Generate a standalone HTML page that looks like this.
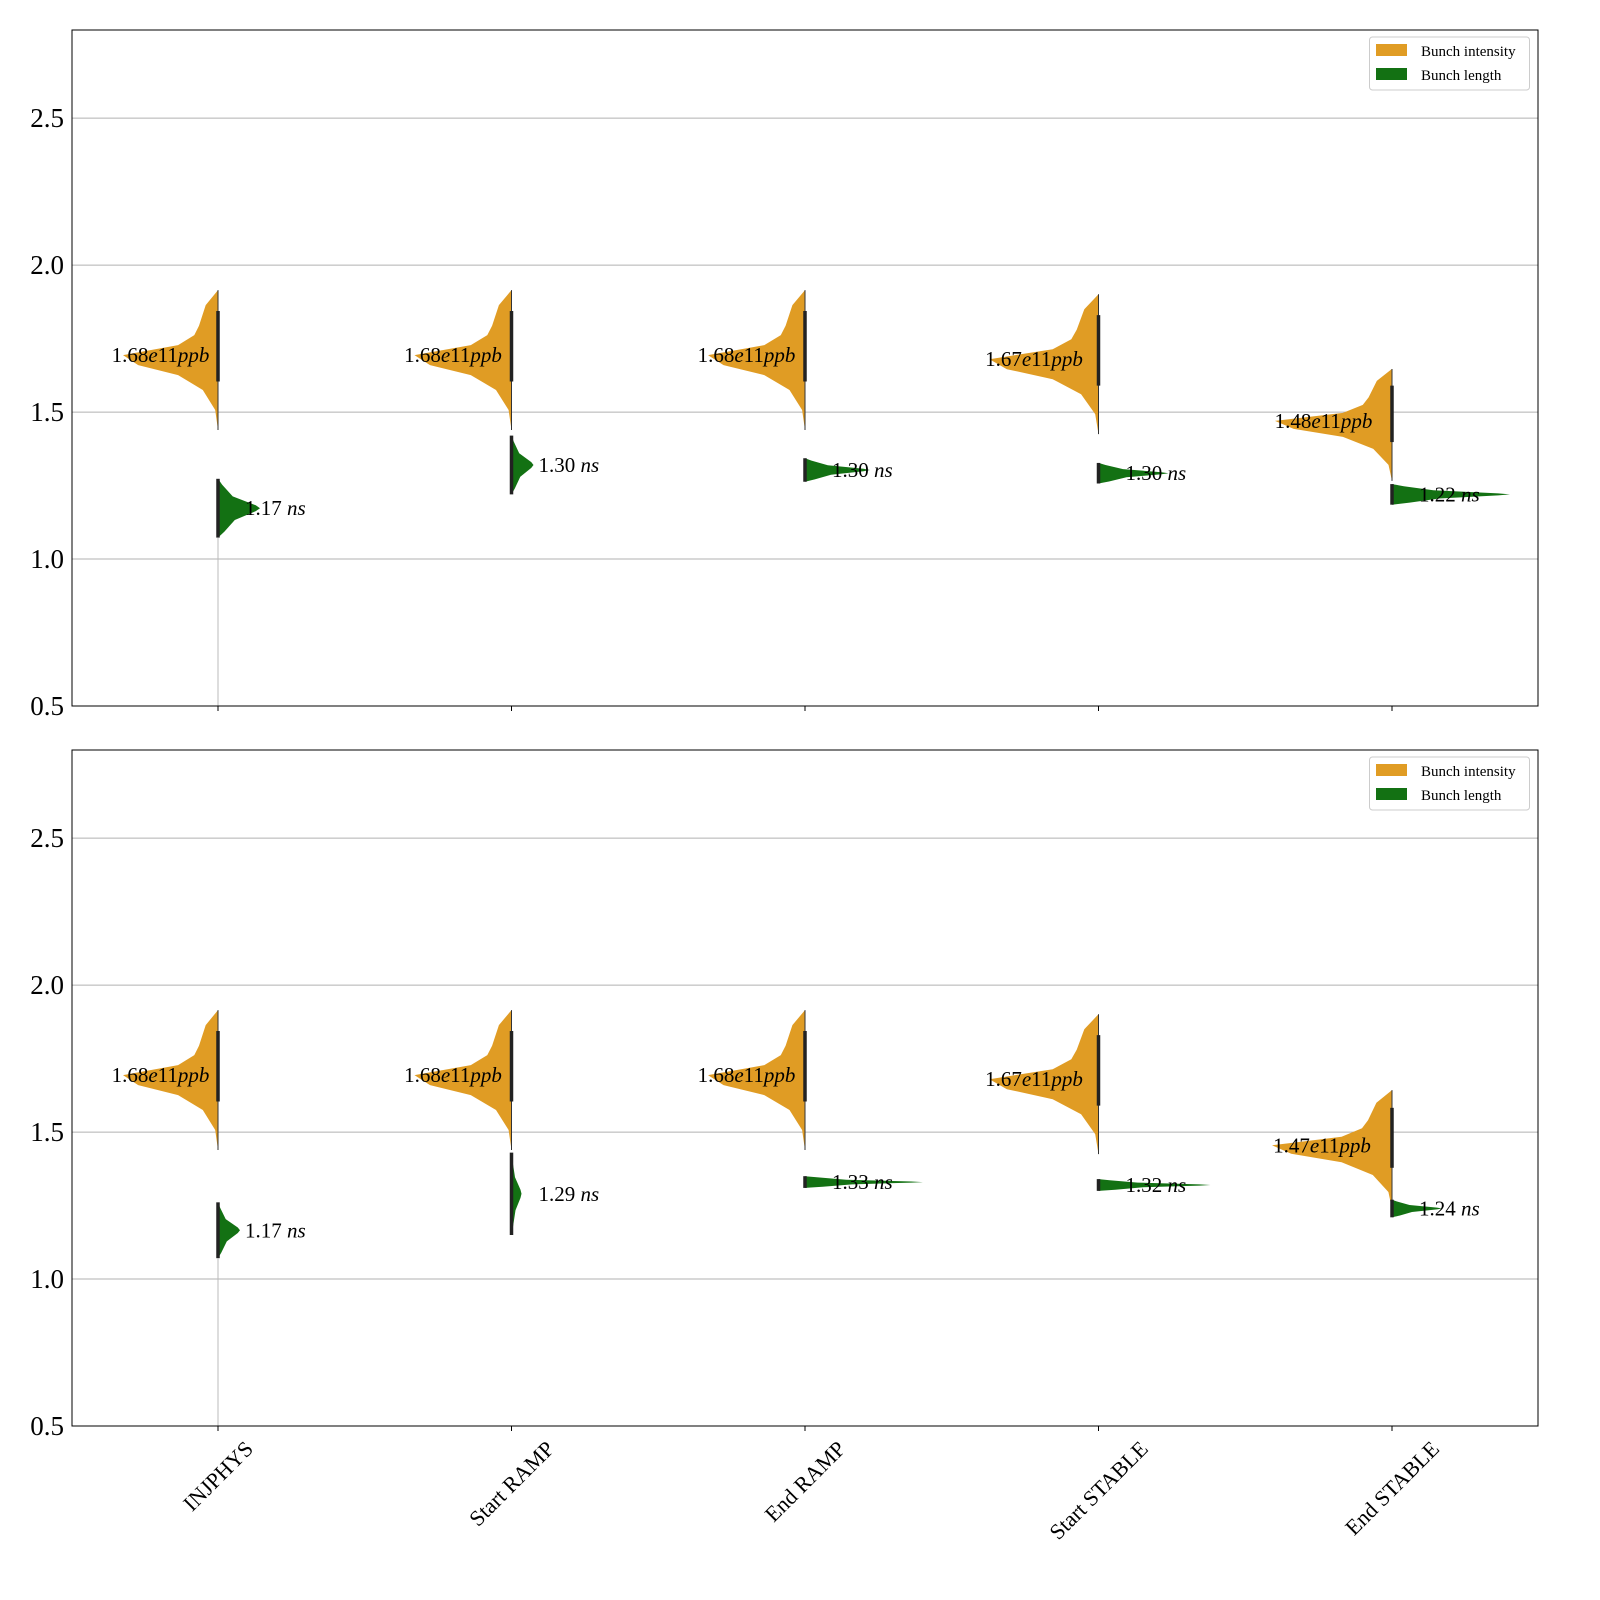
<!DOCTYPE html>
<html><head><meta charset="utf-8">
<style>
html,body{margin:0;padding:0;background:#fff;overflow:hidden;width:1600px;height:1600px;}
svg{display:block;font-family:"Liberation Serif",serif;}
</style></head>
<body>
<svg id="chart" width="1600" height="1600" viewBox="0 0 1600 1600" xmlns="http://www.w3.org/2000/svg"></svg>
<script>
const categories = ["INJPHYS","Start RAMP","End RAMP","Start STABLE","End STABLE"];
// intensity (orange) violins, per panel
const intensityPeaks = [[1.694,1.694,1.694,1.68,1.47],[1.694,1.694,1.694,1.68,1.455]];
const intensityLabels = [["1.68","1.68","1.68","1.67","1.48"],["1.68","1.68","1.68","1.67","1.47"]];
const intensityWidths = [[95,97,97,109,117],[95,97,97,109,120]];
const intensityScale = [[1,1,1,1,0.8],[1,1,1,1,0.85]];
// length (green) violins
const lengthPeaks = [[1.173,1.32,1.303,1.292,1.22],[1.166,1.29,1.33,1.32,1.24]];
const lengthHalfSpan = [[0.1,0.1,0.04,0.035,0.035],[0.095,0.14,0.02,0.02,0.03]];
const lengthWidths = [[42,22,65,70,118],[22,10,118,112,50]];
const lengthLabels = [["1.17","1.30","1.30","1.30","1.22"],["1.17","1.29","1.33","1.32","1.24"]];
const yTicks = [0.5,1.0,1.5,2.0,2.5];
// templates (offset from peak, relative width)
const orangeOffsets = [0.221,0.17,0.10,0.068,0.034,0,-0.034,-0.068,-0.119,-0.187,-0.255];
const orangeRel = [0,0.13,0.2,0.25,0.42,1,0.84,0.42,0.16,0.03,0];
const greenT = [-1,-0.8,-0.4,-0.1,0,0.1,0.4,0.8,1];
const greenRel = [0,0.15,0.4,0.9,1,0.9,0.35,0.1,0];

const NS="http://www.w3.org/2000/svg";
const svg=document.getElementById('chart');
function el(tag,attrs,parent){const e=document.createElementNS(NS,tag);for(const k in attrs)e.setAttribute(k,attrs[k]);(parent||svg).appendChild(e);return e;}
const X0=72,X1=1538,YMIN=0.5,YMAX=2.8;
const panels=[{top:30,bot:706},{top:750,bot:1426}];
function xPos(i){return 218+i*293.5;}
const ORANGE="#e09c24",GREEN="#137113";

panels.forEach((p,pi)=>{
  const yS=v=>p.bot-(v-YMIN)/(YMAX-YMIN)*(p.bot-p.top);
  const g=el('g',{});
  
  
  yTicks.forEach(t=>{
    if(t>YMIN){const l=el('line',{x1:X0,x2:X1,y1:yS(t),y2:yS(t),stroke:'#b0b0b0','stroke-width':1},g);
    }
    const tx=el('text',{x:X0-8,y:yS(t)+9,'text-anchor':'end','font-size':27,fill:'#000'},g);
    tx.textContent=t.toFixed(1);
    
  });
  categories.forEach((c,i)=>{
    const x=xPos(i);
    el('line',{x1:x,x2:x,y1:p.bot,y2:p.bot+5,stroke:'#000','stroke-width':1},g);
    const pk=intensityPeaks[pi][i],w=intensityWidths[pi][i],sc=intensityScale[pi][i];
    let pts=orangeOffsets.map((o,k)=>[x-orangeRel[k]*w, yS(pk+o*sc)]);
    let d='M'+x+','+yS(pk+orangeOffsets[0]*sc)+' '+pts.map(q=>'L'+q[0].toFixed(1)+','+q[1].toFixed(1)).join(' ')+' L'+x+','+yS(pk+orangeOffsets[orangeOffsets.length-1]*sc)+'Z';
    const ov=el('path',{d:d,fill:ORANGE},g);
    
    const gp=lengthPeaks[pi][i],gh=lengthHalfSpan[pi][i],gw=lengthWidths[pi][i];
    pts=greenT.map((t,k)=>[x+greenRel[k]*gw, yS(gp+t*gh)]);
    d='M'+x+','+yS(gp-gh)+' '+pts.map(q=>'L'+q[0].toFixed(1)+','+q[1].toFixed(1)).join(' ')+'Z';
    const gv=el('path',{d:d,fill:GREEN},g);
    
    el('line',{x1:x,x2:x,y1:yS(pk+orangeOffsets[0]*sc),y2:yS(pk+orangeOffsets[10]*sc),stroke:'#333','stroke-width':1},g);
    el('line',{x1:x,x2:x,y1:yS(pk+0.15*sc),y2:yS(pk-0.09*sc),stroke:'#222','stroke-width':3.5},g);
    el('line',{x1:x,x2:x,y1:yS(gp+gh),y2:yS(gp-gh),stroke:'#222','stroke-width':3.5},g);
    if(i===0){el('line',{x1:x,x2:x,y1:yS(gp-gh),y2:p.bot,stroke:'#bbb','stroke-width':1},g);}
    const ol=el('text',{x:x-w/2-10,y:yS(pk)+7,'text-anchor':'middle','font-size':21,fill:'#000'},g);
    ol.innerHTML=intensityLabels[pi][i]+'<tspan font-style="italic">e</tspan>11<tspan font-style="italic">ppb</tspan>';
    
    const gl=el('text',{x:x+27,y:yS(gp)+7,'font-size':21,fill:'#000'},g);
    gl.innerHTML=lengthLabels[pi][i]+' <tspan font-style="italic">ns</tspan>';
    
  });
  el('rect',{x:X0,y:p.top,width:X1-X0,height:p.bot-p.top,fill:'none',stroke:'#000','stroke-width':1},g);
  const lg=el('g',{},g);
  
  const ly=p.top+7;
  el('rect',{x:1369.5,y:ly,width:160,height:53,rx:3,fill:'#fff',stroke:'#ccc'},lg);
  el('rect',{x:1376,y:ly+7,width:31,height:12,fill:ORANGE},lg);
  el('rect',{x:1376,y:ly+31,width:31,height:12,fill:GREEN},lg);
  const t1=el('text',{x:1421,y:ly+19,'font-size':15},lg);t1.textContent='Bunch intensity';
  
  const t2=el('text',{x:1421,y:ly+43,'font-size':15},lg);t2.textContent='Bunch length';
  
});
categories.forEach((c,i)=>{
  const x=xPos(i);
  const t=el('text',{x:0,y:0,'text-anchor':'middle','dominant-baseline':'central','font-size':22},svg);
  t.textContent=c;
  
  
  const L=t.getComputedTextLength();
  const h=(L+22)*0.7071;
  t.setAttribute('transform','translate('+x+','+(1437+h/2)+') rotate(-45)');
});
</script>
</body></html>
